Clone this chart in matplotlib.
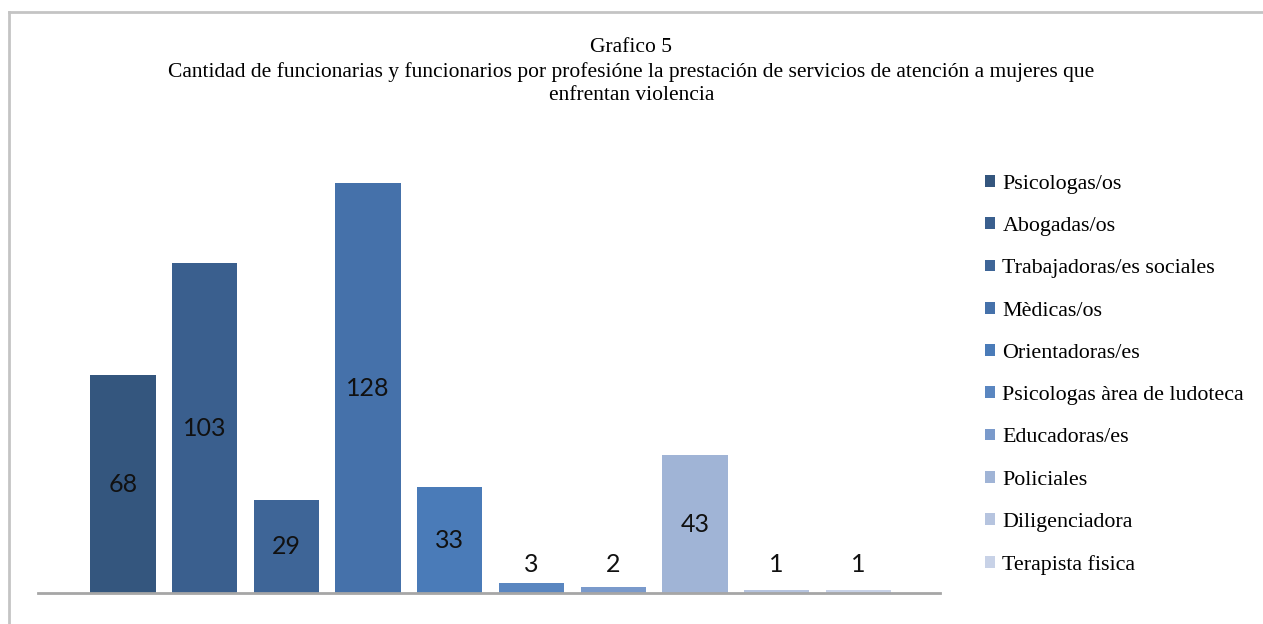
import matplotlib.pyplot as plt
from matplotlib.lines import Line2D

# datos del grafico
profesiones = ['Psicologas/os', 'Abogadas/os', 'Trabajadoras/es sociales', 'Mèdicas/os',
               'Orientadoras/es', 'Psicologas àrea de ludoteca', 'Educadoras/es',
               'Policiales', 'Diligenciadora', 'Terapista fisica']
cantidades = [68, 103, 29, 128, 33, 3, 2, 43, 1, 1]
colores = ['#34567e', '#3a5f8e', '#3e6597', '#4571aa', '#4a7bb8',
           '#5a86c0', '#7a9acb', '#a0b4d6', '#b6c4df', '#c8d2e7']

titulo = ('Grafico 5\nCantidad de funcionarias y funcionarios por profesióne la prestación '
          'de servicios de atención a mujeres que\nenfrentan violencia')

fig = plt.figure(figsize=(12.63, 6.24), dpi=100)
ax = fig.add_axes([38 / 1263, 31 / 624, 902 / 1263, 448 / 624])

for i, (nombre, v, c) in enumerate(zip(profesiones, cantidades, colores)):
    ax.bar(i, v, width=0.8, color=c, label=nombre)
    # etiquetas: dentro de la barra si cabe, si no encima
    y = v / 2 if v >= 10 else 9.0
    ax.text(i, y, str(v), ha='center', va='center', fontsize=18,
            family='Lato', color='#111111')

ax.set_xlim(-1.04, 10.0)
ax.set_ylim(0, 140)
for s in ['top', 'right', 'left']:
    ax.spines[s].set_visible(False)
ax.spines['bottom'].set_color('#a6a6a6')
ax.spines['bottom'].set_linewidth(2)
ax.set_xticks([])
ax.set_yticks([])

fig.text(0.5, 1 - 38 / 624, titulo, ha='center', va='top', fontsize=15.5,
         family='Liberation Serif', linespacing=1.32)

leg = fig.legend(loc='upper left', bbox_to_anchor=(976 / 1263, 1 - 166 / 624),
                 frameon=False, prop={'family': 'Liberation Serif', 'size': 15.8},
                 handlelength=0.45, handleheight=0.45, handletextpad=0.35,
                 labelspacing=1.06, borderaxespad=0)

# marco exterior
fig.add_artist(Line2D([9 / 1263, 9 / 1263], [0, 1 - 12 / 624], color='#c4c4c4', lw=2))
fig.add_artist(Line2D([9 / 1263, 1], [1 - 12 / 624, 1 - 12 / 624], color='#c4c4c4', lw=2))

plt.savefig('out.png', dpi=100)
